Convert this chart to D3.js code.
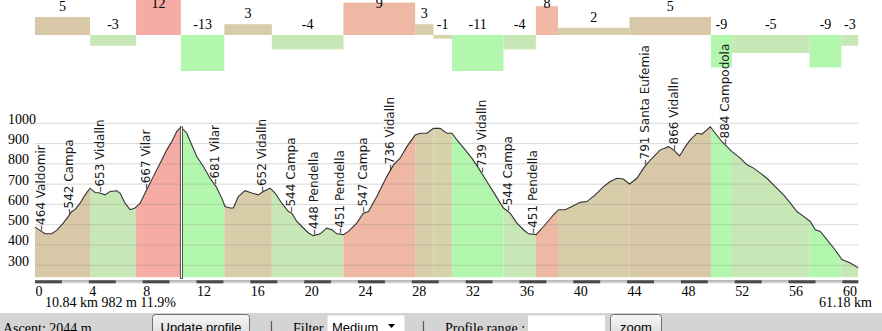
<!DOCTYPE html>
<html>
<head>
<meta charset="utf-8">
<script src="https://cdn.jsdelivr.net/npm/d3@7"></script>
<style>
  body { margin: 0; background: #fff; }
  svg { display: block; }
  .serif { font-family: "Liberation Serif", "Times New Roman", serif; font-size: 14px; fill: #000; }
  .wp { font-family: "DejaVu Sans", Verdana, sans-serif; font-size: 12px; fill: #1a1a1a; }
  .ui { font-family: "Liberation Sans", Arial, sans-serif; font-size: 13px; fill: #000; }
</style>
</head>
<body>
<svg id="chart" width="882" height="331"></svg>
<script>
// Elevation profile of the route: distance (km) and altitude (m)
const profileKm = [0.00,0.37,0.74,1.24,1.61,2.10,2.48,2.73,2.97,3.35,3.72,4.09,4.46,4.83,5.20,5.58,6.07,6.32,6.69,7.06,7.43,7.81,8.30,8.79,9.42,9.79,10.16,10.53,10.84,11.28,11.65,12.02,12.51,13.01,13.46,13.88,14.12,14.50,14.74,15.11,15.61,16.11,16.60,16.97,17.47,17.84,18.34,18.83,19.08,19.45,19.83,20.32,20.69,21.19,21.68,22.06,22.43,22.92,23.29,23.91,24.40,24.78,25.40,26.14,26.64,27.13,27.63,28.25,28.62,29.12,29.61,30.11,30.60,30.98,31.35,31.97,32.46,32.96,33.58,34.20,34.81,35.31,35.81,36.30,36.67,37.24,37.79,38.53,38.90,39.40,39.90,40.51,41.01,41.63,42.25,42.74,43.24,43.73,44.18,44.73,45.22,45.72,46.46,47.08,47.45,47.90,48.32,48.69,49.19,49.56,50.18,50.55,51.05,51.79,52.41,52.91,53.40,53.90,54.39,55.01,55.63,56.13,56.62,57.11,57.61,57.98,58.36,58.85,59.35,59.97,60.59,61.18];
const profileElev = [488,472,455,455,472,508,541,565,574,606,647,680,659,656,647,664,667,656,606,574,582,606,672,737,819,869,909,959,982,951,893,836,787,729,688,631,590,582,582,639,668,656,647,664,680,656,606,565,557,516,491,459,446,455,483,475,455,451,467,508,557,565,639,737,795,828,885,942,951,951,975,975,951,951,918,869,828,779,713,647,582,557,508,475,455,451,491,549,574,574,590,610,614,647,688,713,729,725,701,729,779,819,869,885,869,839,885,918,951,947,983,951,909,860,828,795,779,754,729,688,647,606,565,541,516,475,467,426,385,328,311,287];

// Climb sections: boundaries (km) and average grade (%)
const segBounds = [0, 4.09, 7.51, 10.84, 14.07, 17.60, 22.92, 28.25, 29.61, 30.98, 34.81, 37.22, 38.86, 44.18, 50.23, 51.79, 57.56, 59.92, 61.18];
const segGrades = [5, -3, 12, -13, 3, -4, 9, 3, -1, -11, -4, 8, 2, 5, -9, -5, -9, -3];

// Waypoints along the route
const wpKm   = [0.48, 2.55, 4.83, 8.30, 13.38, 16.85, 19.07, 20.74, 22.67, 24.41, 26.39, 33.21, 35.18, 37.00, 45.35, 47.53, 51.29];
const wpElev = [464, 542, 653, 667, 681, 652, 544, 448, 451, 547, 736, 739, 544, 451, 791, 866, 884];
const wpName = ["Valdomir", "Campa", "Vidalln", "Vilar", "Vilar", "Vidalln", "Campa", "Pendella", "Pendella", "Campa", "Vidalln", "Vidalln", "Campa", "Pendella", "Santa Eufemia", "Vidalln", "Campodola"];

// Axis ticks
const kmTicks = [0, 4, 8, 12, 16, 20, 24, 28, 32, 36, 40, 44, 48, 52, 56, 60];
const elevTicks = [300, 400, 500, 600, 700, 800, 900, 1000];

// Cursor readout and totals
const totalKm = 61.18;
const cursorKm = 10.84, cursorElev = 982, cursorGrade = 11.9;
const ascent = 2044;

const svg = d3.select("#chart");

const x = d3.scaleLinear().domain([0, totalKm]).range([35, 858.3]);
const y = d3.scaleLinear().domain([240, 1000]).range([277.4, 123.3]);
const g = d3.scaleLinear().domain([-10, 10]).range([71, -1]).clamp(true);

function gradeColor(v) {
  if (v >= 10) return "#f4aca4";
  if (v >= 7) return "#eeb8a4";
  if (v >= 4) return "#d9c8a8";
  if (v >= 0) return "#d8cda9";
  if (v >= -2) return "#d7d2aa";
  if (v >= -6) return "#c7e8b6";
  return "#b3f7ae";
}

function elevAt(km) {
  const i = Math.max(1, d3.bisectLeft(profileKm, km));
  const k0 = profileKm[i - 1], k1 = profileKm[i];
  const t = (km - k0) / (k1 - k0);
  return profileElev[i - 1] + t * (profileElev[i] - profileElev[i - 1]);
}

const segs = segGrades.map((v, i) => ({ v, a: segBounds[i], b: segBounds[i + 1] }));

// ---- grade bars along the top ----
const bars = svg.append("g");
bars.selectAll("rect").data(segs).join("rect")
  .attr("x", d => x(d.a))
  .attr("width", d => x(d.b) - x(d.a))
  .attr("y", d => Math.min(g(d.v), g(0)))
  .attr("height", d => Math.abs(g(d.v) - g(0)))
  .attr("fill", d => gradeColor(d.v));
bars.selectAll("text").data(segs).join("text")
  .attr("class", "serif")
  .attr("text-anchor", "middle")
  .attr("x", d => (x(d.a) + x(d.b)) / 2)
  .attr("y", d => d.v >= 0 ? Math.max(g(d.v) - 6, 8) : g(0) - 6.5)
  .text(d => d.v);

// ---- profile area, coloured by section ----
const area = d3.area().x((d, i) => x(profileKm[i])).y0(y(240)).y1((d, i) => y(profileElev[i]));
const line = d3.line().x((d, i) => x(profileKm[i])).y((d, i) => y(profileElev[i]));

svg.append("clipPath").attr("id", "profileClip")
  .append("path").attr("d", area(profileElev));

svg.append("g").attr("clip-path", "url(#profileClip)")
  .selectAll("rect").data(segs).join("rect")
  .attr("x", d => x(d.a))
  .attr("width", d => x(d.b) - x(d.a))
  .attr("y", y(1000) - 10)
  .attr("height", y(240) - y(1000) + 10)
  .attr("fill", d => gradeColor(d.v));

// grid lines
svg.append("g").selectAll("line").data(elevTicks).join("line")
  .attr("x1", x(0)).attr("x2", x(totalKm))
  .attr("y1", d => y(d)).attr("y2", d => y(d))
  .attr("stroke", "#888").attr("stroke-opacity", 0.32).attr("stroke-width", 1);

svg.append("path").attr("d", line(profileElev))
  .attr("fill", "none").attr("stroke", "#333").attr("stroke-width", 1.1);

// cursor
svg.append("rect")
  .attr("x", x(cursorKm) - 0.5).attr("width", 2.2)
  .attr("y", y(cursorElev)).attr("height", 278.5 - y(cursorElev))
  .attr("fill", "#fff").attr("stroke", "#444").attr("stroke-width", 0.9);

// waypoint labels
svg.append("g").selectAll("text").data(wpKm).join("text")
  .attr("class", "wp")
  .attr("transform", (d, i) => `translate(${x(d) + 3.8},${y(elevAt(d)) - 0.5}) rotate(-90)`)
  .text((d, i) => `\u2013${wpElev[i]} ${wpName[i]}`);

// ---- axes ----
const yAxis = svg.append("g").attr("transform", "translate(8,0)")
  .call(d3.axisLeft(y).tickValues(elevTicks).tickSize(0).tickFormat(d3.format("d")));
yAxis.select(".domain").remove();
yAxis.selectAll("text").attr("class", "serif").attr("x", 0).attr("dy", 0)
  .attr("text-anchor", "start").attr("fill", null);

// distance ruler
const ruler = svg.append("g");
ruler.append("rect").attr("x", x(0)).attr("width", x(totalKm) - x(0))
  .attr("y", 280.3).attr("height", 3).attr("fill", "#d2d2d2");
ruler.append("line").attr("x1", x(0)).attr("x2", x(totalKm))
  .attr("y1", 280.8).attr("y2", 280.8).attr("stroke", "#9a9a9a").attr("stroke-width", 0.8);
ruler.selectAll("rect.dark").data(d3.range(0, totalKm, 4)).join("rect")
  .attr("class", "dark")
  .attr("x", d => x(d)).attr("width", d => x(Math.min(d + 2, totalKm)) - x(d))
  .attr("y", 280.3).attr("height", 3).attr("fill", "#4a4a4a");

const xAxis = svg.append("g")
  .call(d3.axisBottom(x).tickValues(kmTicks).tickSize(0).tickFormat(d3.format("d")));
xAxis.select(".domain").remove();
xAxis.selectAll("text").attr("class", "serif").attr("y", 296).attr("dy", 0)
  .attr("text-anchor", "start").attr("fill", null);

svg.append("text").attr("class", "serif").attr("x", 45).attr("y", 307)
  .text(`${cursorKm} km ${cursorElev} m ${cursorGrade}%`);
svg.append("text").attr("class", "serif").attr("x", 872).attr("y", 307)
  .attr("text-anchor", "end").text(`${totalKm} km`);

// ---- toolbar ----
const tb = svg.append("g");
tb.append("rect").attr("x", 0).attr("y", 313).attr("width", 882).attr("height", 18).attr("fill", "#d4d4d4");
tb.append("text").attr("class", "serif").attr("x", 3).attr("y", 332.5).text(`Ascent: ${ascent} m`);

const grad = svg.append("defs").append("linearGradient").attr("id", "btn")
  .attr("x1", 0).attr("y1", 0).attr("x2", 0).attr("y2", 1);
grad.append("stop").attr("offset", "0%").attr("stop-color", "#f6f6f6");
grad.append("stop").attr("offset", "100%").attr("stop-color", "#dcdcdc");

function button(x0, w, label) {
  tb.append("rect").attr("x", x0).attr("y", 314.5).attr("width", w).attr("height", 22).attr("rx", 3)
    .attr("fill", "url(#btn)").attr("stroke", "#707070");
  tb.append("text").attr("class", "ui").attr("x", x0 + w / 2).attr("y", 332)
    .attr("text-anchor", "middle").text(label);
}
button(152.5, 97, "Update profile");
tb.append("text").attr("class", "serif").attr("x", 270).attr("y", 331).attr("fill", "#333").text("|");
tb.append("text").attr("class", "serif").attr("x", 293).attr("y", 332.5).text("Filter");
tb.append("rect").attr("x", 327.5).attr("y", 315.5).attr("width", 77).attr("height", 20).attr("fill", "#fff");
tb.append("text").attr("class", "ui").attr("x", 332).attr("y", 332).text("Medium");
tb.append("path").attr("d", "M388,324 L395,324 L391.5,328 Z").attr("fill", "#000");
tb.append("text").attr("class", "serif").attr("x", 422).attr("y", 331).attr("fill", "#333").text("|");
tb.append("text").attr("class", "serif").attr("x", 445).attr("y", 332.5).text("Profile range :");
tb.append("rect").attr("x", 528).attr("y", 315.5).attr("width", 77).attr("height", 20).attr("fill", "#fff");
button(610.5, 51, "zoom");
</script>
</body>
</html>
